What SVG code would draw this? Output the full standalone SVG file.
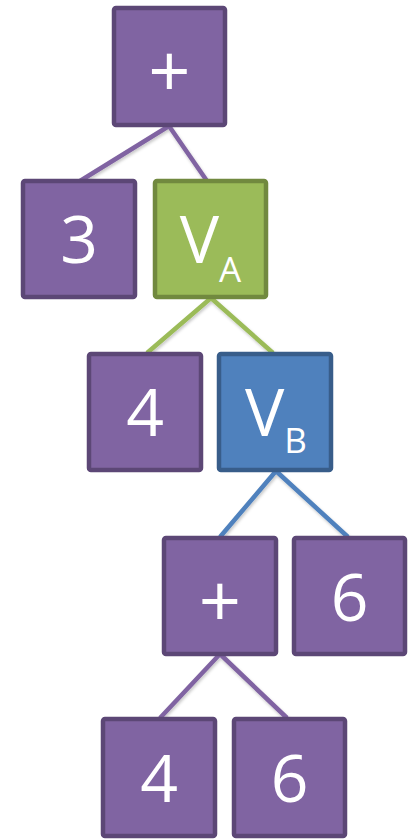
<svg xmlns="http://www.w3.org/2000/svg" width="415" height="839" viewBox="0 0 415 839">
  <style>
    .box { stroke-width: 4.5; }
    .purple { fill: #8064A2; stroke: #5C4776; }
    .green { fill: #9BBB59; stroke: #71893F; }
    .blue { fill: #4F81BD; stroke: #385D8A; }
    .lbl { font-family: "Open Sans", "Liberation Sans", sans-serif; font-size: 66px; fill: #FFFFFF; text-anchor: middle; }
    .op { font-size: 74px; }
    .sub { font-size: 35px; }
    .edge { stroke-width: 4.5; fill: none; }
    .e-purple { stroke: #8064A2; }
    .e-green { stroke: #9BBB59; }
    .e-blue { stroke: #4F81BD; }
  </style>
  <defs>
    <filter id="soft" x="-20%" y="-20%" width="140%" height="140%">
      <feDropShadow dx="1" dy="2" stdDeviation="1.5" flood-color="#000" flood-opacity="0.22"/>
    </filter>
  </defs>
  <rect width="415" height="839" fill="#FFFFFF"/>

  <!-- tree edges -->
  <g id="connectors" filter="url(#soft)">
    <path class="edge e-purple" d="M169,126 L80,181 M169,126 L207,181"/>
    <path class="edge e-green" d="M211,298 L147,353 M211,298 L273,353"/>
    <path class="edge e-blue" d="M276,471 L220,537 M276,471 L348,537"/>
    <path class="edge e-purple" d="M220,654 L160,718 M220,654 L287,718"/>
  </g>

  <g id="plus-root">
    <rect class="box purple" x="114" y="8" width="111" height="117" rx="2"/>
    <text class="lbl op" x="169.5" y="97">+</text>
  </g>
  <g id="three">
    <rect class="box purple" x="23" y="181" width="112" height="116" rx="2"/>
    <text class="lbl" x="79" y="263">3</text>
  </g>
  <g id="va">
    <rect class="box green" x="155" y="181" width="111" height="116" rx="2"/>
    <text class="lbl" x="210.5" y="263">V<tspan class="sub" dy="19">A</tspan></text>
  </g>
  <g id="four-a">
    <rect class="box purple" x="89" y="354" width="112" height="116" rx="2"/>
    <text class="lbl" x="145" y="436">4</text>
  </g>
  <g id="vb">
    <rect class="box blue" x="219" y="354" width="112" height="116" rx="2"/>
    <text class="lbl" x="276" y="436">V<tspan class="sub" dy="17">B</tspan></text>
  </g>
  <g id="plus-inner">
    <rect class="box purple" x="164" y="538" width="112" height="116" rx="2"/>
    <text class="lbl op" x="220" y="627">+</text>
  </g>
  <g id="six-a">
    <rect class="box purple" x="294" y="538" width="111" height="116" rx="2"/>
    <text class="lbl" x="349.5" y="621">6</text>
  </g>
  <g id="four-b">
    <rect class="box purple" x="103" y="719" width="112" height="117" rx="2"/>
    <text class="lbl" x="159" y="802">4</text>
  </g>
  <g id="six-b">
    <rect class="box purple" x="234" y="719" width="111" height="117" rx="2"/>
    <text class="lbl" x="289.5" y="802">6</text>
  </g>
</svg>
